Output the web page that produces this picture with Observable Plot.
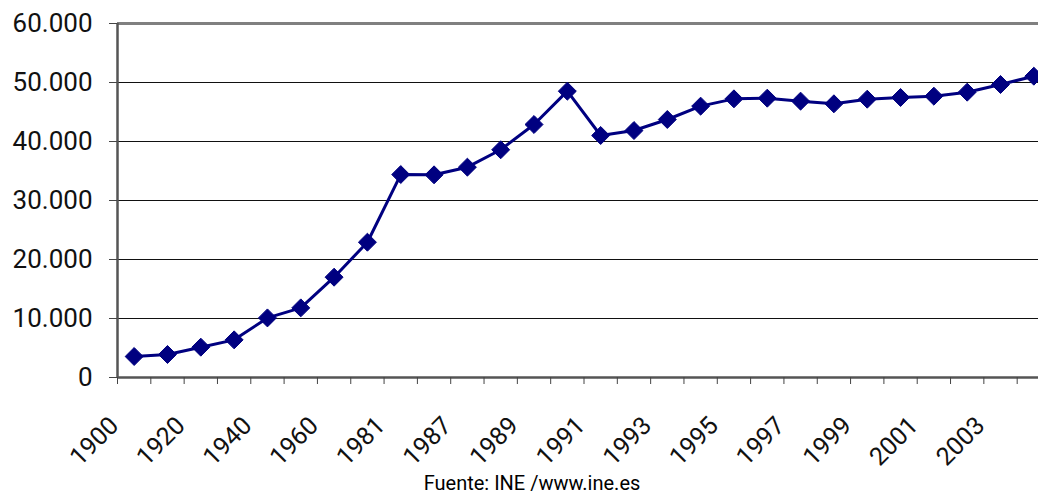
<!DOCTYPE html>
<html>
<head>
<meta charset="utf-8">
<script src="https://cdn.jsdelivr.net/npm/d3@7"></script>
<script src="https://cdn.jsdelivr.net/npm/@observablehq/plot@0.6"></script>
<style>
  html, body { margin: 0; padding: 0; background: #fff; overflow: hidden; }
  #wrap { position: relative; width: 1038px; height: 496px; overflow: hidden; font-family: Roboto, "DejaVu Sans", sans-serif; }
  #title { position: absolute; left: 0; width: 1060px; top: -27px; text-align: center; font-size: 26px; line-height: 26px; color: #000; white-space: nowrap; }
  #chart { position: absolute; left: 0; top: 0; }
  #caption { position: absolute; left: 0; width: 1064px; top: 471px; text-align: center; font-size: 20px; line-height: 24px; color: #000; }
</style>
</head>
<body>
<div id="wrap">
  <div id="chart"></div>
  <div id="title">Figura 3 – Gráfico de la evolución histórica de la población del municipio</div>
  <div id="caption">Fuente: INE /www.ine.es</div>
</div>
<script>
const years = ["1900","1910","1920","1930","1940","1950","1960","1970","1981","1986","1987","1988","1989","1990","1991","1992","1993","1994","1995","1996","1997","1998","1999","2000","2001","2002","2003","2004"];
const population = [3560, 3900, 5140, 6380, 10100, 11800, 17000, 22930, 34400, 34350, 35650, 38600, 42880, 48530, 41020, 41860, 43730, 45990, 47230, 47340, 46840, 46390, 47170, 47460, 47680, 48360, 49660, 51070];
const yTicks = [0, 10000, 20000, 30000, 40000, 50000, 60000];
const labelledYears = ["1900","1920","1940","1960","1981","1987","1989","1991","1993","1995","1997","1999","2001","2003"];

const data = years.map((y, i) => ({i, year: y, value: population[i]}));
const labels = labelledYears.map(y => ({i: years.indexOf(y), year: y}));
const boundaries = years.map((_, i) => i - 0.5);
const fmt = d => d3.format(",")(d).replace(/,/g, ".");

const chart = Plot.plot({
  width: 1038,
  height: 462,
  marginLeft: 117,
  marginRight: -12,
  marginTop: 23,
  marginBottom: 85,
  style: {fontFamily: "Roboto, 'DejaVu Sans', sans-serif", background: "white", overflow: "visible"},
  x: {domain: [-0.5, years.length - 0.5]},
  y: {domain: [0, 60000]},
  marks: [
    Plot.ruleY(yTicks.filter(d => d > 0 && d < 60000), {stroke: "#111", strokeWidth: 1}),
    Plot.ruleY([60000], {stroke: "#808080", strokeWidth: 3}),
    Plot.ruleX([-0.5], {y1: 0, y2: 60000, stroke: "#555", strokeWidth: 2.5}),
    Plot.ruleY([0], {stroke: "#555", strokeWidth: 2.5}),
    Plot.axisY({ticks: yTicks, tickSize: 8, tickPadding: 17, tickFormat: fmt, fontSize: 26, stroke: "#444", fill: "#111", label: null}),
    Plot.axisX({ticks: boundaries, tickSize: 7, tickFormat: () => "", stroke: "#444", label: null}),
    Plot.text(labels, {x: "i", frameAnchor: "bottom", text: "year", rotate: -45, textAnchor: "end", lineAnchor: "middle", dx: -20, dy: 44, fontSize: 25, fill: "#111"}),
    Plot.line(data, {x: "i", y: "value", stroke: "#000080", strokeWidth: 3}),
    Plot.dot(data, {x: "i", y: "value", symbol: "diamond2", r: 8.1, fill: "#000080", stroke: "#000080", strokeWidth: 1})
  ]
});
document.getElementById("chart").appendChild(chart);
</script>
</body>
</html>
